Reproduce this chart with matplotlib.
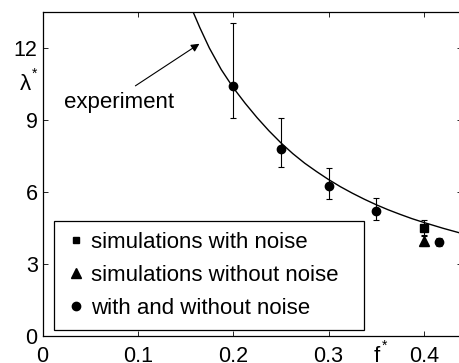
import matplotlib
matplotlib.use('Agg')
import matplotlib.pyplot as plt
from matplotlib.lines import Line2D
from matplotlib.patches import Rectangle

plt.rcParams['font.family'] = ['Liberation Sans', 'DejaVu Sans']

# experiment curve
curve_f = [0.158, 0.165, 0.175, 0.1875, 0.2, 0.2125, 0.225, 0.2375, 0.25, 0.2625, 0.275,
           0.2875, 0.3, 0.3125, 0.325, 0.3375, 0.35, 0.3625, 0.375, 0.3875, 0.4, 0.42, 0.44]
curve_lam = [13.5, 12.85, 12.0, 11.1, 10.35, 9.7, 9.1, 8.55, 8.05, 7.6, 7.2,
             6.85, 6.52, 6.22, 5.95, 5.7, 5.47, 5.26, 5.07, 4.89, 4.73, 4.49, 4.27]

# circles (with and without noise)
circ_f = [0.2, 0.25, 0.3, 0.35, 0.416]
circ_lam = [10.4, 7.8, 6.25, 5.22, 3.9]
circ_lo = [9.1, 7.03, 5.71, 4.82, 3.76]
circ_hi = [13.03, 9.1, 7.0, 5.74, 4.07]

# square (simulations with noise)
sq_f = [0.4]
sq_lam = [4.49]
sq_lo = [4.2]
sq_hi = [4.83]

# triangle (simulations without noise)
tri_f = [0.4]
tri_lam = [3.95]
tri_lo = [3.76]
tri_hi = [4.15]

legend_labels = ['simulations with noise', 'simulations without noise', 'with and without noise']
xticks = [0, 0.1, 0.2, 0.3, 0.4]
yticks = [0, 3, 6, 9, 12]

fig = plt.figure(figsize=(4.59, 3.63), dpi=100)
ax = fig.add_axes([42.5 / 459, 27 / 363, (462 - 42.5) / 459, 324 / 363])

ax.plot(curve_f, curve_lam, 'k-', lw=1.0)

def err(f, lam, lo, hi, marker, ms):
    yerr = [[l - a for l, a in zip(lam, lo)], [b - l for l, b in zip(lam, hi)]]
    ax.errorbar(f, lam, yerr=yerr, fmt=marker, color='k', ms=ms, ecolor='k',
                elinewidth=0.8, capsize=2, capthick=0.8)

err(circ_f, circ_lam, circ_lo, circ_hi, 'o', 6)
err(sq_f, sq_lam, sq_lo, sq_hi, 's', 5.5)
err(tri_f, tri_lam, tri_lo, tri_hi, '^', 6.5)

ax.set_xlim(0, 0.44)
ax.set_ylim(0, 13.5)
ax.set_xticks(xticks)
ax.set_xticklabels(['0', '0.1', '0.2', '0.3', '0.4'])
ax.set_yticks(yticks)
ax.tick_params(direction='in', top=True, right=True, length=3.5, width=0.6,
               labelsize=15.5)
ax.tick_params(axis='x', pad=7)
ax.tick_params(axis='y', pad=3.5)
for s in ax.spines.values():
    s.set_linewidth(0.9)

# axis labels placed like the original
ax.text(20 / 459, (363 - 84) / 363, 'λ', transform=fig.transFigure, fontsize=16,
        va='center', ha='left')
ax.text(32 / 459, (363 - 74) / 363, '*', transform=fig.transFigure, fontsize=10,
        va='center', ha='left')
ax.text(374 / 459, (363 - 356) / 363, 'f', transform=fig.transFigure, fontsize=16,
        va='center', ha='left')
ax.text(382 / 459, (363 - 346) / 363, '*', transform=fig.transFigure, fontsize=10,
        va='center', ha='left')

ax.annotate('', xy=(0.167, 12.24), xytext=(0.095, 10.36),
            arrowprops=dict(arrowstyle='-|>', color='k', lw=0.8, mutation_scale=12))
ax.text(0.0227, 9.74, 'experiment', fontsize=16, va='center', ha='left')

# legend box is wider than its text in the original
ax.add_patch(Rectangle((0.0286, 0.0185), 0.766 - 0.0286, 0.356 - 0.0185,
                       transform=ax.transAxes, fill=True, facecolor='white',
                       edgecolor='k', lw=0.9, zorder=4))
handles = [Line2D([], [], ls='', marker='s', color='k', ms=5),
           Line2D([], [], ls='', marker='^', color='k', ms=6.5),
           Line2D([], [], ls='', marker='o', color='k', ms=6)]
leg = ax.legend(handles, legend_labels, loc='lower left', bbox_to_anchor=(0.036, 0.0145),
                borderaxespad=0, fontsize=16, handlelength=0.6, handletextpad=0.35,
                labelspacing=0.55, borderpad=0.55, frameon=False)
leg.set_zorder(5)

fig.savefig('out.png', dpi=100)
